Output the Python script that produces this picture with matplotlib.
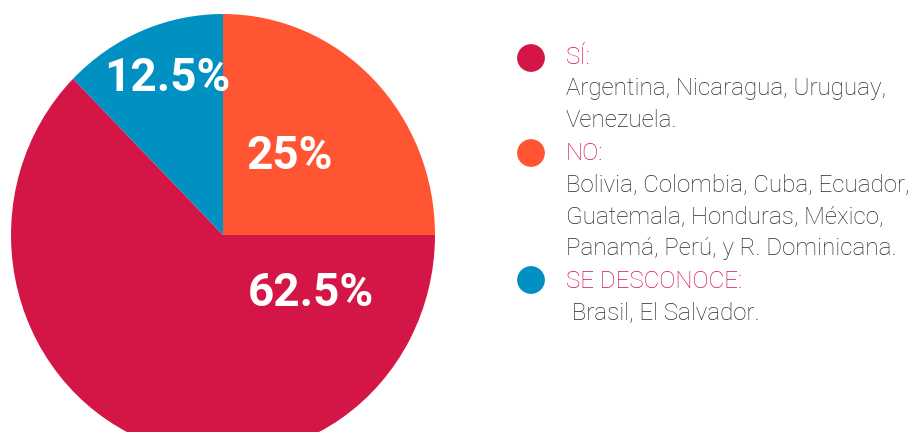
import matplotlib
matplotlib.use("Agg")
import matplotlib.pyplot as plt

plt.rcParams['font.family'] = ['Roboto', 'DejaVu Sans']

categories = ['SÍ:', 'NO:', 'SE DESCONOCE:']
shares = [62.5, 25, 12.5]
pct_labels = ['62.5%', '25%', '12.5%']
countries = [
    ['Argentina, Nicaragua, Uruguay,', 'Venezuela.'],
    ['Bolivia, Colombia, Cuba, Ecuador,', 'Guatemala, Honduras, México,', 'Panamá, Perú, y R. Dominicana.'],
    [' Brasil, El Salvador.'],
]
colors = ['#D41647', '#FF5533', '#0091C2']

W, H = 916, 432
fig = plt.figure(figsize=(W / 100, H / 100), dpi=100)

# pie axes, slightly taller than wide, bottom runs off the canvas
ax = fig.add_axes([11 / W, (H - 456) / H, 424 / W, 442 / H])
order = [1, 0, 2]  # orange at 12 o'clock, then red, then blue
ax.pie([shares[i] for i in order], colors=[colors[i] for i in order],
       startangle=90, counterclock=False, radius=1,
       wedgeprops=dict(linewidth=0))
ax.set_aspect('auto')
ax.set_xlim(-1, 1)
ax.set_ylim(-1, 1)
ax.axis('off')

# overlay in pixel coordinates for labels and legend
ov = fig.add_axes([0, 0, 1, 1], facecolor='none')
ov.set_xlim(0, W)
ov.set_ylim(H, 0)
ov.axis('off')

label_pos = [(311, 293), (290, 156), (167, 78)]
for (px, py), txt in zip(label_pos, pct_labels):
    ov.text(px, py, txt, color='white', fontsize=33,
            fontweight='bold', ha='center', va='center')

dot_y = [58, 153, 280]
head_base = [64, 160, 288]
line_h = 31.5
ov.scatter([531] * 3, dot_y, s=20 ** 2, c=colors, linewidths=0)
for i in range(3):
    ov.text(566, head_base[i], categories[i], color='#D41647',
            fontsize=17.4, fontweight='light', ha='left', va='baseline')
    for j, line in enumerate(countries[i]):
        ov.text(566, head_base[i] + line_h * (j + 1), line,
                color='#2a2a2a', fontsize=17.4, fontweight='light',
                ha='left', va='baseline')

fig.savefig('out.png', dpi=100)
